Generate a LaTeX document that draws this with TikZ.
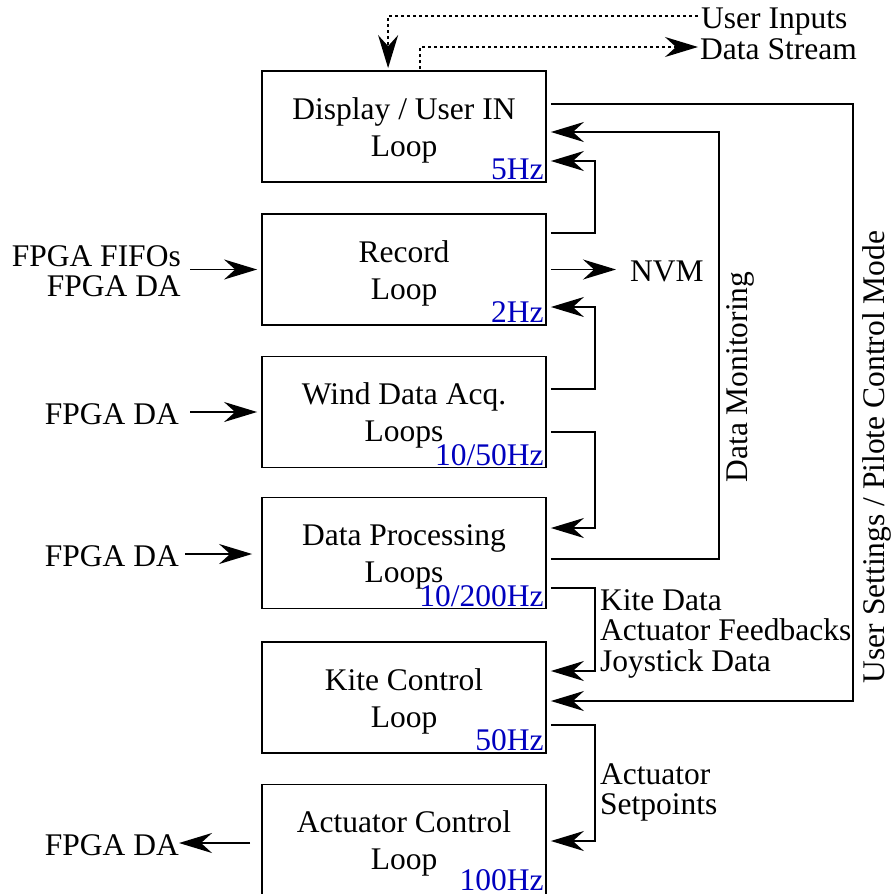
\documentclass[tikz,border=0pt]{standalone}
\usepackage{fontspec}
\setmainfont{Liberation Serif}
\usetikzlibrary{arrows.meta,calc}
\definecolor{hzblue}{RGB}{0,0,190}
\newcommand{\boxstrut}{\rule{0pt}{29pt}}
\begin{document}
\begin{tikzpicture}[x=1pt,y=-1pt,
  box/.style={draw,line width=1.8pt,minimum width=284pt,minimum height=111pt,inner sep=0pt,align=center,font=\fontsize{31.5}{37}\selectfont},
  hz/.style={text=hzblue,inner sep=0pt,anchor=base east,font=\fontsize{31.5}{37}\selectfont},
  lbl/.style={inner sep=0pt,font=\fontsize{31.5}{30.5}\selectfont},
  tip/.style={-{Stealth[length=33pt,width=20pt,inset=11pt]}},
  conn/.style={line width=1.8pt,tip},
  dot/.style={line width=1.8pt,dash pattern=on 3pt off 3pt,tip}]
\useasboundingbox (0,0) rectangle (893,894);
% boxes
\node[box] (b1) at (404,126.5) {\boxstrut Display / User IN\\Loop};
\node[box] (b2) at (404,269.5) {\boxstrut Record\\Loop};
\node[box] (b3) at (404,412) {\boxstrut Wind Data Acq.\\Loops};
\node[box] (b4) at (404,553) {\boxstrut Data Processing\\Loops};
\node[box] (b5) at (404,697.5) {\boxstrut Kite Control\\Loop};
\node[box] (b6) at (404,840) {\boxstrut Actuator Control\\Loop};
% rates
\node[hz] (h1) at ($(b1.south east)+(-3,-3)$) {5Hz};
\node[hz] (h2) at ($(b2.south east)+(-3,-3)$) {2Hz};
\node[hz] (h3) at ($(b3.south east)+(-3,-3)$) {10/50Hz};
\node[hz] (h4) at ($(b4.south east)+(-3,-3)$) {10/200Hz};
\node[hz] (h5) at ($(b5.south east)+(-3,-3)$) {50Hz};
\node[hz] (h6) at ($(b6.south east)+(-3,-6)$) {100Hz};
% labels
\node[lbl,anchor=base west] (ui) at (701,28) {User Inputs};
\node[lbl,anchor=base west] (ds) at (700,59) {Data Stream};
\node[lbl,anchor=north east,align=right] (fifo) at (181,245) {FPGA FIFOs\\FPGA DA};
\node[lbl,anchor=base east] (in3) at (179,424) {FPGA DA};
\node[lbl,anchor=base east] (in4) at (179,566) {FPGA DA};
\node[lbl,anchor=base east] (out6) at (179,855) {FPGA DA};
\node[lbl,anchor=base west] (nvm) at (630,281) {NVM};
\node[lbl,anchor=north west,align=left] (kd) at (600,589) {Kite Data\\Actuator Feedbacks\\Joystick Data};
\node[lbl,anchor=north west,align=left] (as) at (600,763) {Actuator\\Setpoints};
\node[lbl,anchor=base,rotate=90] (dm) at (747,377) {Data Monitoring};
\node[lbl,anchor=base,rotate=90] (us) at (884,457) {User Settings / Pilote Control Mode};
% top dotted
\draw[dot] ($(ui.base west)+(-3,-12)$) -| ($(b1.north west)+(127,-2)$);
\draw[dot] ($(b1.north west)+(159,-1)$) |- ($(ds.base west)+(-2,-12)$);
% right side connectors
\draw[conn] ($(b1.east)+(4,-22.5)$) -| ($(b5.east)+(306,3.5)$) -- ($(b5.east)+(4,3.5)$);
\draw[conn] ($(b4.east)+(4,6)$) -| ($(b1.east)+(172,5.5)$) -- ($(b1.east)+(4,5.5)$);
\draw[conn] ($(b2.east)+(4,-36.5)$) -| ($(b1.east)+(48,34.5)$) -- ($(b1.east)+(4,34.5)$);
\draw[conn,shorten >=14pt] ($(b2.east)+(4,0)$) -- (nvm.west |- b2.east);
\draw[conn] ($(b3.east)+(4,-23)$) -| ($(b2.east)+(48,37.5)$) -- ($(b2.east)+(4,37.5)$);
\draw[conn] ($(b3.east)+(4,20)$) -| ($(b4.east)+(48,-25)$) -- ($(b4.east)+(4,-25)$);
\draw[conn] ($(b4.east)+(4,35)$) -| ($(b5.east)+(48,-26.5)$) -- ($(b5.east)+(4,-26.5)$);
\draw[conn] ($(b5.east)+(4,27.5)$) -| ($(b6.east)+(48,1)$) -- ($(b6.east)+(4,1)$);
% left side connectors
\draw[conn] ($(fifo.east |- b2.west)+(9,0)$) -- ($(b2.west)+(-4,0)$);
\draw[conn] ($(in3.east |- b3.west)+(11,0)$) -- ($(b3.west)+(-4,0)$);
\draw[conn] ($(in4.east |- b4.west)+(6,1)$) -- ($(b4.west)+(-9,1)$);
\draw[conn] ($(b6.west)+(-11,3)$) -- ($(out6.east |- b6.west)+(0,3)$);
\end{tikzpicture}
\end{document}
